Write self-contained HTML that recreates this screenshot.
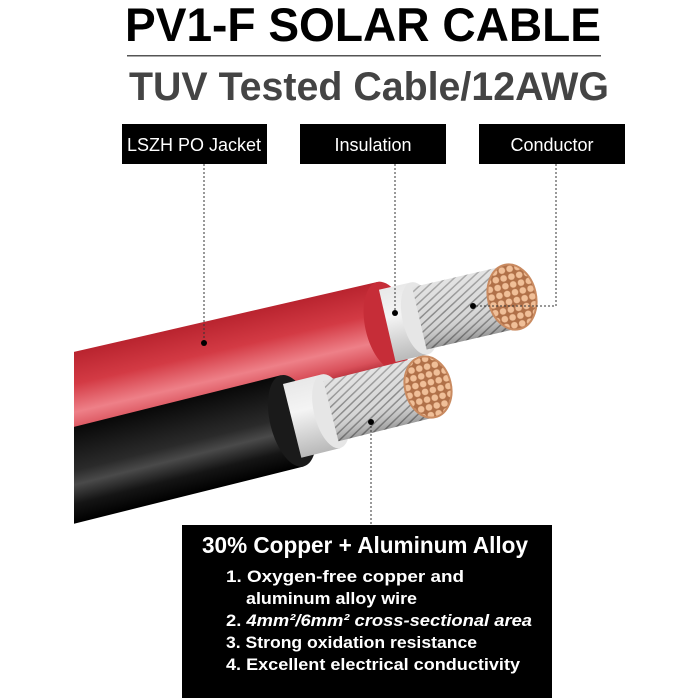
<!DOCTYPE html>
<html><head><meta charset="utf-8"><style>
html,body{margin:0;padding:0;background:#fff;width:700px;height:700px;overflow:hidden}
svg{display:block}
text{font-family:"Liberation Sans",sans-serif;font-weight:bold}
</style></head><body>
<svg width="700" height="700" viewBox="0 0 700 700" xmlns="http://www.w3.org/2000/svg">
<defs>
<linearGradient id="red" x1="0" y1="-46" x2="0" y2="46" gradientUnits="userSpaceOnUse">
<stop offset="0" stop-color="#b8232e"/><stop offset="0.35" stop-color="#d33a44"/><stop offset="0.65" stop-color="#ee8088"/><stop offset="0.85" stop-color="#d9505a"/><stop offset="1" stop-color="#a8202a"/></linearGradient>
<linearGradient id="blk" x1="0" y1="-47" x2="0" y2="47" gradientUnits="userSpaceOnUse">
<stop offset="0" stop-color="#080808"/><stop offset="0.45" stop-color="#2a2a2a"/><stop offset="0.6" stop-color="#4a4a4a"/><stop offset="0.8" stop-color="#151515"/><stop offset="1" stop-color="#000"/></linearGradient>
<linearGradient id="ins" x1="0" y1="-38" x2="0" y2="38" gradientUnits="userSpaceOnUse">
<stop offset="0" stop-color="#e8e8e8"/><stop offset="0.4" stop-color="#f4f4f4"/><stop offset="1" stop-color="#b8b8b8"/></linearGradient>
<pattern id="wire" width="6" height="6" patternUnits="userSpaceOnUse" patternTransform="rotate(60)">
<rect width="6" height="6" fill="#d8d8d8"/><rect width="1.5" height="6" fill="#8a8a8a"/></pattern>
<linearGradient id="wshade" x1="0" y1="-32" x2="0" y2="32" gradientUnits="userSpaceOnUse">
<stop offset="0" stop-color="#fff" stop-opacity="0.3"/><stop offset="0.5" stop-color="#fff" stop-opacity="0"/><stop offset="1" stop-color="#000" stop-opacity="0.3"/></linearGradient>
<pattern id="strand" width="8" height="8" patternUnits="userSpaceOnUse">
<rect width="8" height="8" fill="#b07048"/><circle cx="4" cy="4" r="3.3" fill="#f0bf98"/></pattern>
<clipPath id="cl"><rect x="74" y="0" width="626" height="700"/></clipPath>
</defs>

<text x="363" y="41" font-size="47" text-anchor="middle" fill="#000" textLength="476" lengthAdjust="spacingAndGlyphs">PV1-F SOLAR CABLE</text>
<rect x="127" y="55" width="474" height="1.5" fill="#555"/>
<text x="369" y="100" font-size="40" text-anchor="middle" fill="#444" textLength="480" lengthAdjust="spacingAndGlyphs">TUV Tested Cable/12AWG</text>

<rect x="122" y="124" width="145" height="40" fill="#000"/>
<text x="194" y="151" font-size="18" fill="#fff" text-anchor="middle" style="font-weight:normal">LSZH PO Jacket</text>
<rect x="300" y="124" width="146" height="40" fill="#000"/>
<text x="373" y="151" font-size="18" fill="#fff" text-anchor="middle" style="font-weight:normal">Insulation</text>
<rect x="479" y="124" width="146" height="40" fill="#000"/>
<text x="552" y="151" font-size="18" fill="#fff" text-anchor="middle" style="font-weight:normal">Conductor</text>

<g clip-path="url(#cl)">
<g transform="translate(512,297) rotate(-13)">
<rect x="-600" y="-45" width="472" height="90" fill="url(#red)"/>
<ellipse cx="-128" cy="0" rx="22" ry="45" fill="#c62d38"/>
<rect x="-128" y="-37" width="33" height="74" fill="url(#ins)"/>
<ellipse cx="-95" cy="0" rx="17" ry="37" fill="#e6e6e6"/>
<rect x="-95" y="-32" width="95" height="64" fill="url(#wire)"/>
<rect x="-95" y="-32" width="95" height="64" fill="url(#wshade)"/>
<ellipse cx="0" cy="0" rx="24" ry="33" fill="url(#strand)" stroke="#c98a60" stroke-width="2"/>
</g>
<g transform="translate(428,387) rotate(-14)">
<rect x="-600" y="-47" width="460" height="94" fill="url(#blk)"/>
<ellipse cx="-140" cy="0" rx="22" ry="47" fill="#1a1a1a"/>
<rect x="-140" y="-38" width="40" height="76" fill="url(#ins)"/>
<ellipse cx="-100" cy="0" rx="17" ry="38" fill="#e6e6e6"/>
<rect x="-100" y="-31" width="100" height="62" fill="url(#wire)"/>
<rect x="-100" y="-31" width="100" height="62" fill="url(#wshade)"/>
<ellipse cx="0" cy="0" rx="23" ry="31" fill="url(#strand)" stroke="#c98a60" stroke-width="2"/>
</g>
</g>

<g stroke="#333" stroke-width="1" stroke-dasharray="2,2" fill="none">
<line x1="204" y1="164" x2="204" y2="343"/>
<line x1="395" y1="164" x2="395" y2="313"/>
<polyline points="556,164 556,306 473,306"/>
<line x1="371" y1="422" x2="371" y2="526"/>
</g>
<g fill="#000">
<circle cx="204" cy="343" r="3"/><circle cx="395" cy="313" r="3"/>
<circle cx="473" cy="306" r="3"/><circle cx="371" cy="422" r="3"/>
</g>

<rect x="182" y="525" width="370" height="173" fill="#000"/>
<text x="365" y="553" font-size="23" fill="#fff" text-anchor="middle" textLength="326" lengthAdjust="spacingAndGlyphs">30% Copper + Aluminum Alloy</text>
<g font-size="17" fill="#fff">
<text x="226" y="582" textLength="238" lengthAdjust="spacingAndGlyphs">1. Oxygen-free copper and</text>
<text x="246" y="604" textLength="171" lengthAdjust="spacingAndGlyphs">aluminum alloy wire</text>
<text x="226" y="626" textLength="306" lengthAdjust="spacingAndGlyphs">2. <tspan font-style="italic">4mm²/6mm² cross-sectional area</tspan></text>
<text x="226" y="648" textLength="251" lengthAdjust="spacingAndGlyphs">3. Strong oxidation resistance</text>
<text x="226" y="670" textLength="294" lengthAdjust="spacingAndGlyphs">4. Excellent electrical conductivity</text>
</g>
</svg>
</body></html>
